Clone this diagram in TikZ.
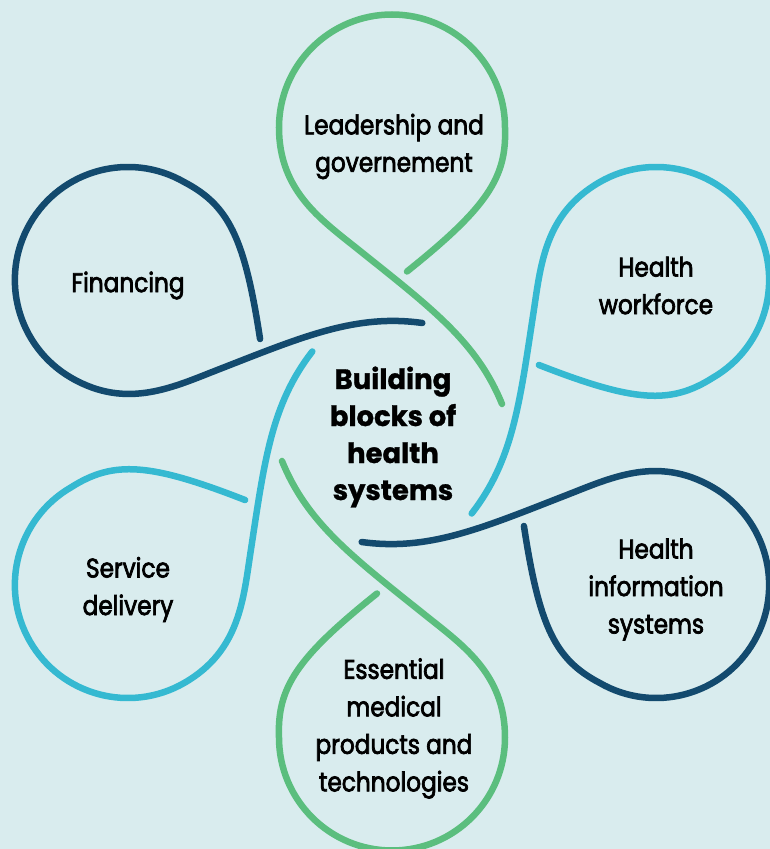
\documentclass[tikz,border=0pt]{standalone}
\usepackage{fontspec}
\setmainfont{Poppins}[FakeStretch=0.86, FakeBold=2.6]
\newfontfamily\corefont{Poppins}[FakeStretch=0.98, FakeBold=1]
\usetikzlibrary{positioning}

\definecolor{bgcol}{RGB}{217,236,238}
\definecolor{grn}{RGB}{91,190,126}
\definecolor{navy}{RGB}{19,74,110}
\definecolor{sky}{RGB}{53,185,209}

\tikzset{
  petal/.style={line width=6.5pt, line cap=round},
  lab/.style={align=center, inner sep=0pt, yshift=-5pt, font=\fontsize{27}{37.5}\selectfont},
  core/.style={align=center, inner sep=0pt, font=\corefont\bfseries\fontsize{28}{37}\selectfont}
}

\begin{document}
\begin{tikzpicture}[x=1pt, y=1pt]
\def\lx{264}
\def\ly{152}
\def\ty{291}

\fill[bgcol] (-392,432.5) rectangle (378,-416.5);
\useasboundingbox (-392,432.5) rectangle (378,-416.5);

% one loop, drawn for the top and turned round the centre
\def\loopat#1#2{
  \draw[petal, #1, rotate=#2] (15,161) .. controls (95,225) and (115,255) .. (113,305)
    arc[start angle=0, end angle=180, radius=113]
    .. controls (-113,240) and (-69,211.5) .. (-30,180)
    .. controls (40,124) and (85,90) .. (110,28.5);
}
\loopat{grn}{0}
\loopat{navy}{60}
\loopat{sky}{120}
\loopat{grn}{180}
\loopat{navy}{240}
\loopat{sky}{300}

\node[lab] (lead) at (2, \ty) {Leadership and\\governement};
\node[lab] (fin) at (-\lx, \ly) {Financing};
\node[lab] (work) at (\lx, \ly) {Health\\workforce};
\node[lab] (serv) at (-\lx, -\ly) {Service\\delivery};
\node[lab] (info) at (\lx, -\ly) {Health\\information\\systems};
\node[lab] (ess) at (2, -\ty) {Essential\\medical\\products and\\technologies};
\node[core] (hub) at (1, -4.5) {Building\\blocks of\\health\\systems};

\end{tikzpicture}
\end{document}
